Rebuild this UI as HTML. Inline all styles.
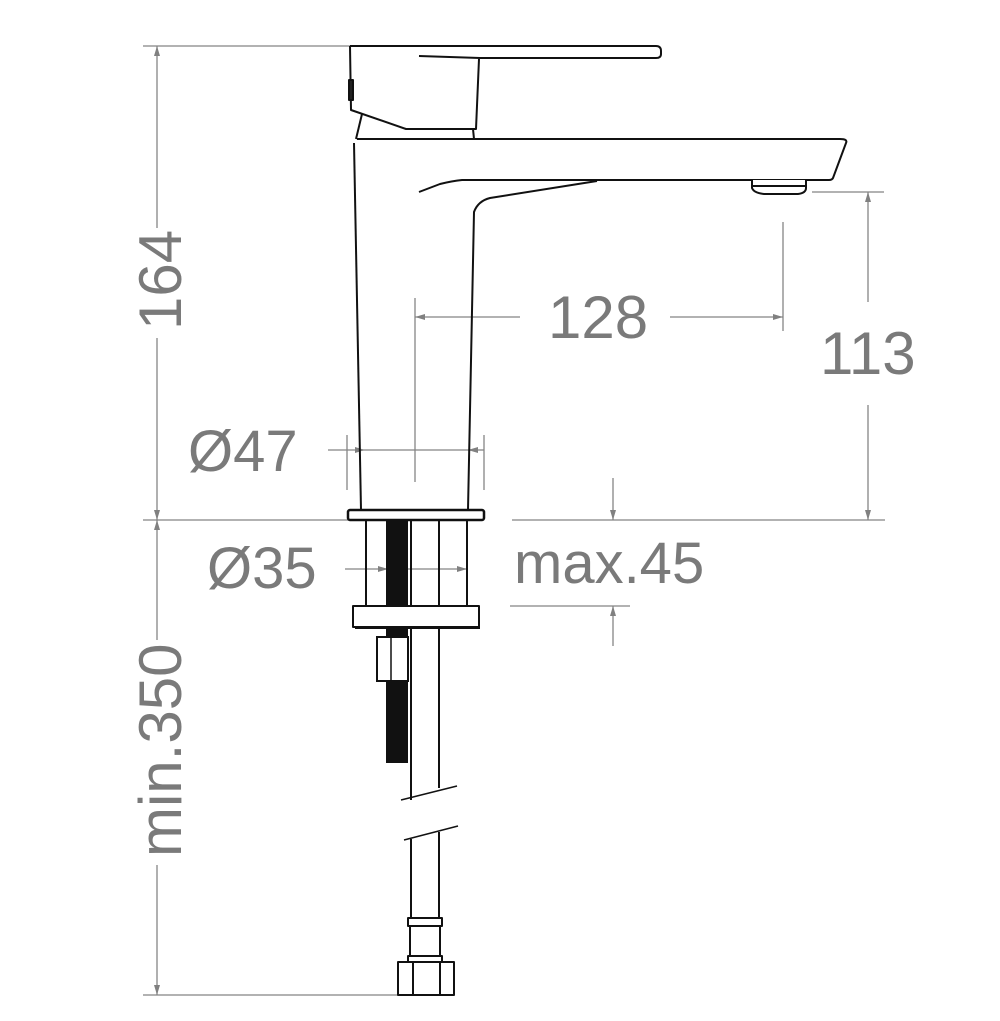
<!DOCTYPE html>
<html><head><meta charset="utf-8"><style>
html,body{margin:0;padding:0;background:#fff;}
svg{display:block;}
text{font-family:"Liberation Sans",sans-serif;fill:#7a7a7a;}
</style></head><body>
<svg width="1000" height="1021" viewBox="0 0 1000 1021" xmlns="http://www.w3.org/2000/svg">
<defs>
<marker id="a" viewBox="0 0 10 6" refX="10" refY="3" markerWidth="10" markerHeight="6" orient="auto-start-reverse" markerUnits="userSpaceOnUse"><path d="M0,0 L10,3 L0,6z" fill="#808080"/></marker>
</defs>
<!-- dimension lines -->
<g stroke="#858585" stroke-width="1.3" fill="none">
<line x1="143" y1="46" x2="352" y2="46"/>
<line x1="143" y1="520" x2="348" y2="520"/>
<line x1="512" y1="520" x2="885" y2="520"/>
<line x1="143" y1="995" x2="400" y2="995"/>
<line x1="157" y1="46" x2="157" y2="228" marker-start="url(#a)"/>
<line x1="157" y1="338" x2="157" y2="520" marker-end="url(#a)"/>
<line x1="157" y1="520" x2="157" y2="640" marker-start="url(#a)"/>
<line x1="157" y1="865" x2="157" y2="995" marker-end="url(#a)"/>
<!-- 128 -->
<line x1="415" y1="298" x2="415" y2="482"/>
<line x1="783" y1="222" x2="783" y2="331"/>
<line x1="415" y1="317" x2="520" y2="317" marker-start="url(#a)"/>
<line x1="670" y1="317" x2="783" y2="317" marker-end="url(#a)"/>
<!-- 113 -->
<line x1="812" y1="192" x2="884" y2="192"/>
<line x1="868" y1="192" x2="868" y2="302" marker-start="url(#a)"/>
<line x1="868" y1="405" x2="868" y2="520" marker-end="url(#a)"/>
<!-- Ø47 -->
<line x1="347" y1="435" x2="347" y2="490"/>
<line x1="484" y1="435" x2="484" y2="490"/>
<line x1="328" y1="450" x2="365" y2="450" marker-end="url(#a)"/>
<line x1="365" y1="450" x2="468" y2="450"/>
<line x1="468" y1="450" x2="484" y2="450" marker-start="url(#a)"/>
<!-- Ø35 -->
<line x1="345" y1="569" x2="388" y2="569" marker-end="url(#a)"/>
<line x1="388" y1="569" x2="446" y2="569"/>
<line x1="446" y1="569" x2="467" y2="569" marker-end="url(#a)"/>
<!-- max.45 -->
<line x1="613" y1="478" x2="613" y2="520" marker-end="url(#a)"/>
<line x1="510" y1="606" x2="630" y2="606"/>
<line x1="613" y1="606" x2="613" y2="646" marker-start="url(#a)"/>
</g>
<!-- text -->
<text x="548" y="338" font-size="60">128</text>
<text x="820" y="374" font-size="60">113</text>
<text x="188" y="471" font-size="58">Ø47</text>
<text x="207" y="588" font-size="58">Ø35</text>
<text x="514" y="583" font-size="58">max.45</text>
<text transform="translate(181,330) rotate(-90)" font-size="60">164</text>
<text transform="translate(181,857) rotate(-90)" font-size="60">min.350</text>
<!-- faucet -->
<g stroke="#111" stroke-width="2" fill="none" stroke-linejoin="round">
<!-- lever -->
<path d="M350,46 L656,46 Q661,46 661,51 L661,54 Q661,58 656,58 L480,58"/>
<path d="M419,56 L480,58"/>
<path d="M350,46 L351,110 L406,129 L476,129 L479,59"/>
<rect x="349" y="80" width="4" height="20" fill="#222"/>
<path d="M362,114 L356,139"/>
<path d="M473,129 L474,139"/>
<!-- spout -->
<path d="M357,139 L840,139 Q848,139 846,143 L833,178 Q832,180 829,180 L462,180 Q452,181 440,184 L419,192"/>
<path d="M597,181 L490,198 Q478,201 474,212 L468,510"/>
<path d="M354,143 L361,510"/>
<path d="M752,180 L752,188 Q754,193 764,194 L798,194 Q806,193 806,188 L806,180" fill="#fff"/>
<line x1="752" y1="186" x2="806" y2="186"/>
<!-- base -->
<rect x="348" y="510" width="136" height="10" rx="2" stroke-width="2.5"/>
<line x1="366" y1="520" x2="366" y2="606"/>
<line x1="467" y1="520" x2="467" y2="606"/>
<rect x="353" y="606" width="126" height="21"/>
<line x1="355" y1="628" x2="480" y2="628"/>
<line x1="411" y1="520" x2="411" y2="606"/>
<line x1="439" y1="520" x2="439" y2="606"/>
<line x1="411" y1="628" x2="411" y2="800"/>
<line x1="439" y1="628" x2="439" y2="788"/>
<line x1="401" y1="800" x2="457" y2="786" stroke-width="1.5"/>
<line x1="404" y1="840" x2="458" y2="826" stroke-width="1.5"/>
<line x1="411" y1="839" x2="411" y2="918"/>
<line x1="439" y1="832" x2="439" y2="918"/>
<rect x="408" y="918" width="34" height="8"/>
<rect x="410" y="926" width="30" height="30"/>
<rect x="408" y="956" width="34" height="6"/>
<rect x="398" y="962" width="56" height="33"/>
<line x1="413" y1="962" x2="413" y2="995"/>
<line x1="440" y1="962" x2="440" y2="995"/>
</g>
<!-- threaded rod -->
<rect x="386" y="521" width="22" height="85" fill="#111"/>
<rect x="386" y="628" width="22" height="10" fill="#111"/>
<rect x="386" y="681" width="22" height="82" fill="#111"/>
<rect x="377" y="637" width="31" height="44" fill="#fff" stroke="#111" stroke-width="2"/>
<line x1="391" y1="637" x2="391" y2="681" stroke="#111" stroke-width="1.5"/>
</svg>
</body></html>
